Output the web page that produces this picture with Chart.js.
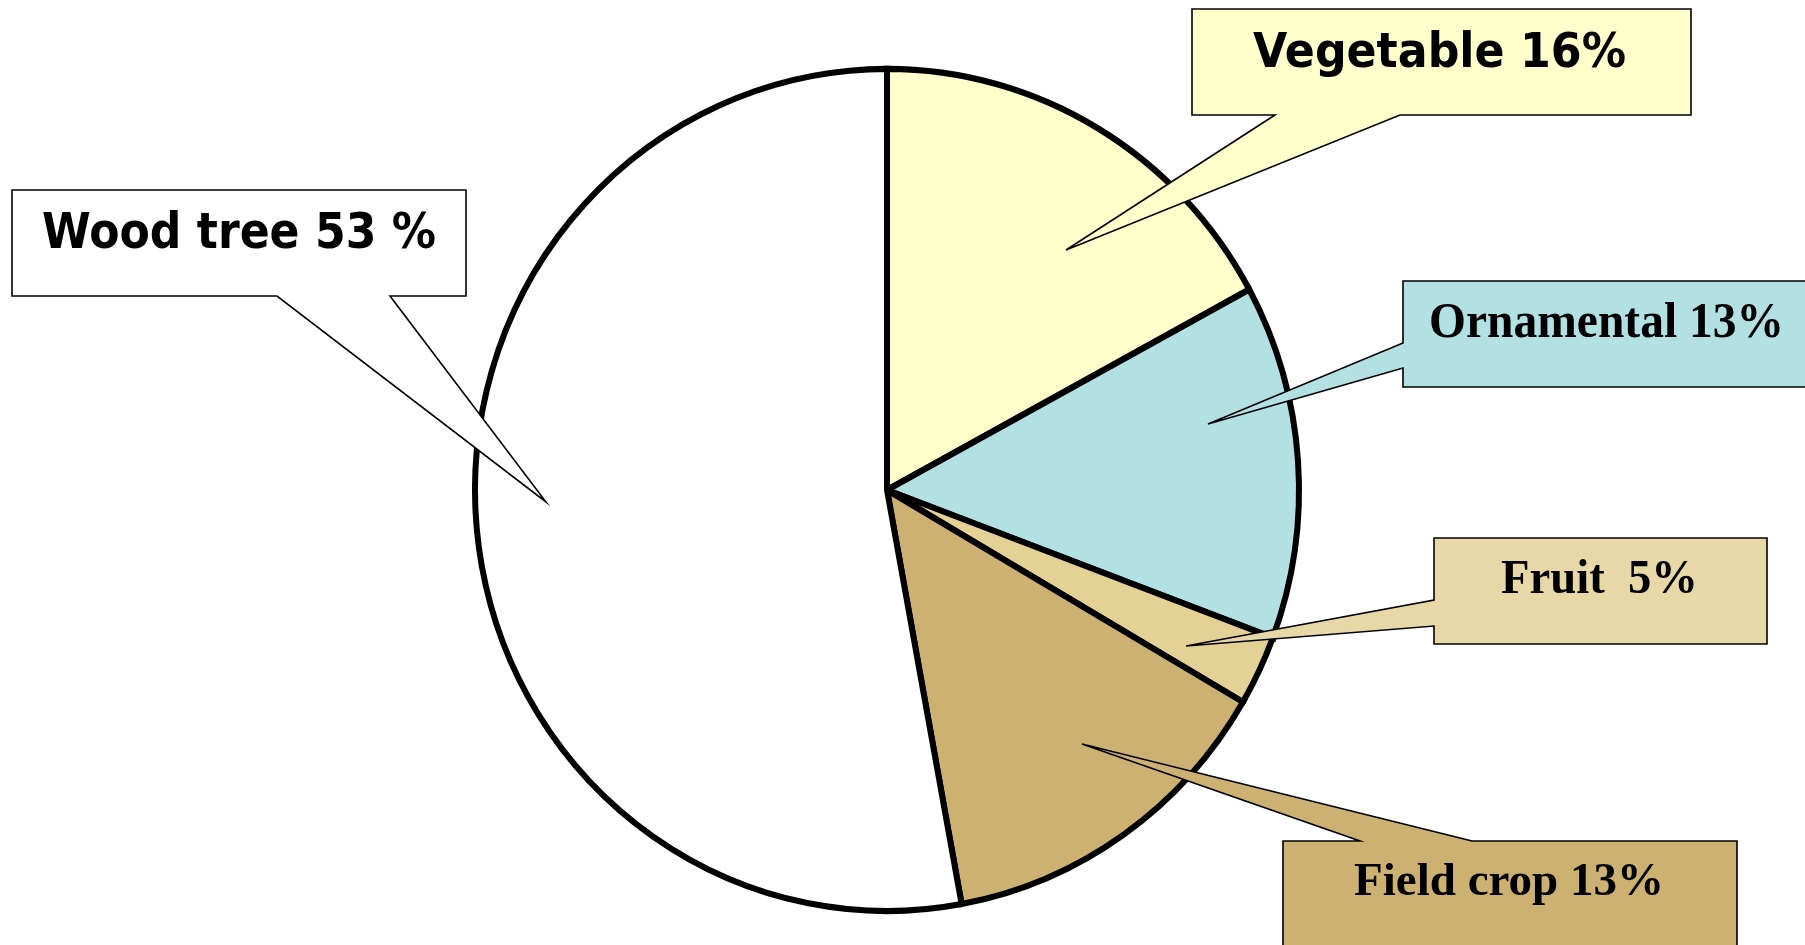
<!DOCTYPE html>
<html>
<head>
<meta charset="utf-8">
<script src="https://cdn.jsdelivr.net/npm/chart.js@4.4.0/dist/chart.umd.min.js"></script>
<style>
  html, body { margin: 0; padding: 0; background: #ffffff; }
  #wrap { width: 1805px; height: 945px; position: relative; }
</style>
</head>
<body>
<div id="wrap"><canvas id="pieChart"></canvas></div>
<script>
// slices, clockwise from 12 o'clock
const categories = ['Vegetable', 'Ornamental', 'Fruit', 'Field crop', 'Wood tree'];
const shares = [17.1, 13.6, 2.7, 13.7, 52.9];
const calloutTexts = ['Vegetable 16%', 'Ornamental 13%', 'Fruit  5%', 'Field crop 13%', 'Wood tree 53 %'];
const sliceColors = ['#FFFFCC', '#B3E0E3', '#E4D196', '#CCB173', '#FFFFFF'];
const boxColors = ['#FFFFCC', '#B3E0E3', '#E8D8A8', '#CCB173', '#FFFFFF'];

// callout boxes: rect + wedge, drawn on top of the pie
const callouts = [
  { i: 0, box: [1192, 9, 1691, 115], side: 'bottom', base: [1275, 1400], tip: [1066, 250],
    font: 'bold 48px "DejaVu Sans"', tx: 1253, ty: 67, tw: 373 },
  { i: 1, box: [1403, 281, 1815, 387], side: 'left', base: [343, 368], tip: [1208, 424],
    font: 'bold 51px "Liberation Serif"', tx: 1429, ty: 337, tw: 355 },
  { i: 2, box: [1434, 538, 1767, 644], side: 'left', base: [600, 626], tip: [1186, 646],
    font: 'bold 48px "Liberation Serif"', tx: 1501, ty: 593, tw: 197 },
  { i: 3, box: [1283, 841, 1737, 960], side: 'top', base: [1360, 1472], tip: [1082, 744],
    font: 'bold 47px "Liberation Serif"', tx: 1354, ty: 895, tw: 310 },
  { i: 4, box: [12, 190, 466, 296], side: 'bottom', base: [277, 390], tip: [546, 502],
    font: 'bold 49px "DejaVu Sans"', tx: 42, ty: 248, tw: 394 }
];

// pie in the picture is a little taller than wide
const ySquash = {
  id: 'ySquash',
  beforeDatasetsDraw(chart) {
    const arc = chart.getDatasetMeta(0).data[0];
    const ctx = chart.ctx;
    ctx.save();
    ctx.translate(arc.x, arc.y);
    ctx.scale(1, 1.022);
    ctx.translate(-arc.x, -arc.y);
  },
  afterDatasetsDraw(chart) {
    chart.ctx.restore();
  }
};

const calloutPlugin = {
  id: 'callouts',
  afterDraw(chart) {
    const ctx = chart.ctx;
    callouts.forEach(function (c) {
      const [x1, y1, x2, y2] = c.box;
      ctx.save();
      ctx.beginPath();
      if (c.side === 'bottom') {
        ctx.moveTo(x1, y1); ctx.lineTo(x2, y1); ctx.lineTo(x2, y2);
        ctx.lineTo(c.base[1], y2); ctx.lineTo(c.tip[0], c.tip[1]); ctx.lineTo(c.base[0], y2);
        ctx.lineTo(x1, y2);
      } else if (c.side === 'left') {
        ctx.moveTo(x1, y1); ctx.lineTo(x2, y1); ctx.lineTo(x2, y2); ctx.lineTo(x1, y2);
        ctx.lineTo(x1, c.base[1]); ctx.lineTo(c.tip[0], c.tip[1]); ctx.lineTo(x1, c.base[0]);
      } else {
        ctx.moveTo(x1, y1); ctx.lineTo(c.base[0], y1); ctx.lineTo(c.tip[0], c.tip[1]);
        ctx.lineTo(c.base[1], y1); ctx.lineTo(x2, y1); ctx.lineTo(x2, y2); ctx.lineTo(x1, y2);
      }
      ctx.closePath();
      ctx.fillStyle = boxColors[c.i];
      ctx.fill();
      ctx.lineWidth = 1.6;
      ctx.lineJoin = 'miter';
      ctx.strokeStyle = '#000000';
      ctx.stroke();

      // text fitted to the width seen in the picture
      ctx.font = c.font;
      ctx.fillStyle = '#000000';
      ctx.textBaseline = 'alphabetic';
      ctx.textAlign = 'left';
      const natural = ctx.measureText(calloutTexts[c.i]).width;
      ctx.translate(c.tx, c.ty);
      ctx.scale(c.tw / natural, 1);
      ctx.fillText(calloutTexts[c.i], 0, 0);
      ctx.restore();
    });
  }
};

const data = {
  labels: categories,
  datasets: [{
    data: shares,
    backgroundColor: sliceColors,
    borderColor: '#000000',
    borderWidth: 6,
    borderJoinStyle: 'miter'
  }]
};

const config = {
  type: 'pie',
  data: data,
  options: {
    responsive: true,
    maintainAspectRatio: false,
    animation: false,
    layout: { padding: { left: 472, right: 503, top: 75, bottom: 40 } },
    plugins: {
      legend: { display: false },
      tooltip: { enabled: false }
    }
  },
  plugins: [ySquash, calloutPlugin]
};

const myChart = new Chart(document.getElementById('pieChart'), config);
</script>
</body>
</html>
